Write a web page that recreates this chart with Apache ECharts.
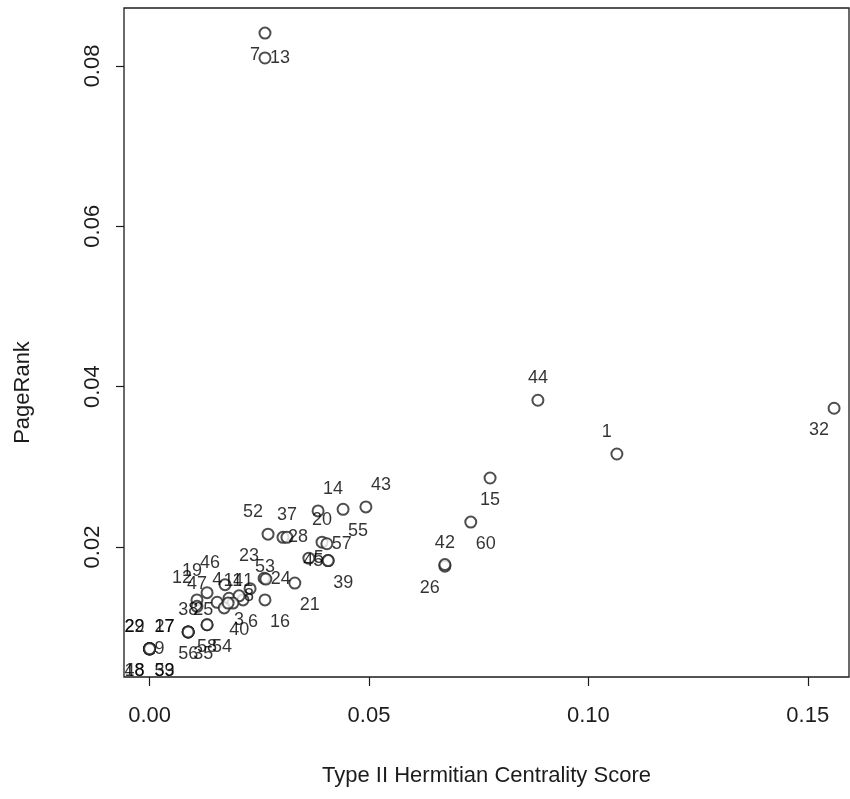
<!DOCTYPE html>
<html>
	<head>
		<meta charset="utf-8">
		<title>PageRank vs Type II Hermitian Centrality</title>
		<style type="text/css">
			html, body {
				margin: 0;
				padding: 0;
				background: #fff;
			}

			#chart {
				width: 850px;
				height: 799px;
			}
		</style>
	</head>
	<body>
		<div id="chart"></div>

		<script src="https://cdn.jsdelivr.net/npm/echarts@6/dist/echarts.min.js"></script>
		<script>
			// node ids
			var nodeIds = [
				'1', '3', '4', '5', '6', '7', '8', '9', '11', '12',
				'13', '14', '15', '16', '19', '20', '21', '23', '24', '25',
				'26', '28', '32', '35', '37', '38', '39', '40', '41', '42',
				'43', '44', '45', '46', '47', '52', '53', '54', '55', '56',
				'57', '58', '60', '17', '27', '22', '29', '18', '48', '33', '59'
			];
			// Type II Hermitian centrality score
			var hermitian = [
				0.1065, 0.0181, 0.0154, 0.0363, 0.0213, 0.0263, 0.0204, 0.0000, 0.0190, 0.0108,
				0.0263, 0.0384, 0.0776, 0.0263, 0.0131, 0.0393, 0.0331, 0.0261, 0.0265, 0.0088,
				0.0673, 0.0304, 0.1560, 0.0088, 0.0313, 0.0088, 0.0407, 0.0170, 0.0179, 0.0673,
				0.0493, 0.0885, 0.0407, 0.0172, 0.0108, 0.0270, 0.0229, 0.0131, 0.0441, 0.0088,
				0.0404, 0.0131, 0.0732, 0.0000, 0.0000, 0.0000, 0.0000, 0.0000, 0.0000, 0.0000, 0.0000
			];
			// PageRank
			var pageRank = [
				0.0316, 0.0136, 0.0131, 0.0186, 0.0134, 0.0841, 0.0139, 0.0073, 0.0130, 0.0134,
				0.0810, 0.0245, 0.0286, 0.0134, 0.0143, 0.0206, 0.0155, 0.0161, 0.0160, 0.0094,
				0.0176, 0.0212, 0.0373, 0.0094, 0.0212, 0.0094, 0.0183, 0.0124, 0.0130, 0.0178,
				0.0250, 0.0383, 0.0183, 0.0153, 0.0126, 0.0216, 0.0148, 0.0103, 0.0247, 0.0094,
				0.0204, 0.0103, 0.0231, 0.0073, 0.0073, 0.0073, 0.0073, 0.0073, 0.0073, 0.0073, 0.0073
			];
			// where each label sits around its point
			var labelSide = [
				'nw', 'se', 'n', 'e', 'se', 'sw', 'e', 'e', 'n', 'nw',
				'e', 'ne', 's', 'se', 'nw', 'n', 'se', 'nw', 'e', 'ne',
				'sw', 'e', 'sw', 'se', 'n', 'n', 'se', 'se', 'ne', 'n',
				'ne', 'n', 'w', 'nw', 'n', 'nw', 'ne', 'se', 'se', 's',
				'e', 's', 'se', 'ne', 'ne', 'nw', 'nw', 'sw', 'sw', 'se', 'se'
			];
			var xTicks = [0, 0.05, 0.10, 0.15];
			var yTicks = [0.02, 0.04, 0.06, 0.08];

			var dy = 22, dx = 5;
			var sides = {
				n: { align: 'center', dx: 0, dy: -dy },
				s: { align: 'center', dx: 0, dy: dy },
				e: { align: 'left', dx: dx, dy: 0 },
				w: { align: 'right', dx: -dx, dy: 0 },
				ne: { align: 'left', dx: dx, dy: -dy },
				nw: { align: 'right', dx: -dx, dy: -dy },
				se: { align: 'left', dx: dx, dy: dy },
				sw: { align: 'right', dx: -dx, dy: dy }
			};

			var points = nodeIds.map(function(id, i) {
				return {
					name: id,
					value: [hermitian[i], pageRank[i]]
				};
			});

			var font = 'Liberation Sans, Arial, sans-serif';
			var ink = '#000';

			var myChart = echarts.init(document.getElementById('chart'));

			var option = {
				animation: false,
				backgroundColor: '#fff',
				grid: {
					left: 124,
					top: 8,
					right: 1,
					bottom: 122,
					show: true,
					borderColor: '#1c1c1c',
					borderWidth: 1.3
				},
				xAxis: {
					type: 'value',
					min: -0.00583,
					max: 0.1594,
					name: 'Type II Hermitian Centrality Score',
					nameLocation: 'middle',
					nameGap: 88,
					nameTextStyle: {
						color: '#1c1c1c',
						fontFamily: font,
						fontSize: 22
					},
					axisLine: {
						show: false,
						onZero: false
					},
					axisTick: {
						show: true,
						length: 9,
						customValues: xTicks,
						lineStyle: {
							color: '#1c1c1c',
							width: 1.2
						}
					},
					axisLabel: {
						customValues: xTicks,
						margin: 28,
						color: '#1c1c1c',
						fontFamily: font,
						fontSize: 22,
						formatter: function(v) {
							return v.toFixed(2);
						}
					},
					splitLine: {
						show: false
					}
				},
				yAxis: {
					type: 'value',
					min: 0.00378,
					max: 0.08723,
					name: 'PageRank',
					nameLocation: 'middle',
					nameGap: 90,
					nameTextStyle: {
						color: '#1c1c1c',
						fontFamily: font,
						fontSize: 22,
						padding: [0, 100, 0, 0]
					},
					axisLine: {
						show: false,
						onZero: false
					},
					axisTick: {
						show: true,
						length: 8,
						customValues: yTicks,
						lineStyle: {
							color: '#1c1c1c',
							width: 1.2
						}
					},
					axisLabel: {
						customValues: yTicks,
						rotate: 90,
						margin: 20,
						color: '#1c1c1c',
						fontFamily: font,
						fontSize: 22,
						formatter: function(v) {
							return v.toFixed(2);
						}
					},
					splitLine: {
						show: false
					}
				},
				series: [{
					type: 'scatter',
					symbol: 'emptyCircle',
					symbolSize: 11,
					itemStyle: {
						color: '#222',
						borderWidth: 1.5
					},
					label: {
						show: true,
						position: 'inside',
						align: 'center',
						verticalAlign: 'middle',
						formatter: '{b}',
						color: ink,
						textBorderWidth: 0,
						fontFamily: font,
						fontSize: 18
					},
					labelLayout: function(params) {
						var s = sides[labelSide[params.dataIndex]];
						return {
							align: s.align,
							dx: s.dx,
							dy: s.dy,
							hideOverlap: false
						};
					},
					data: points
				}]
			};

			myChart.setOption(option);
		</script>
	</body>
</html>
